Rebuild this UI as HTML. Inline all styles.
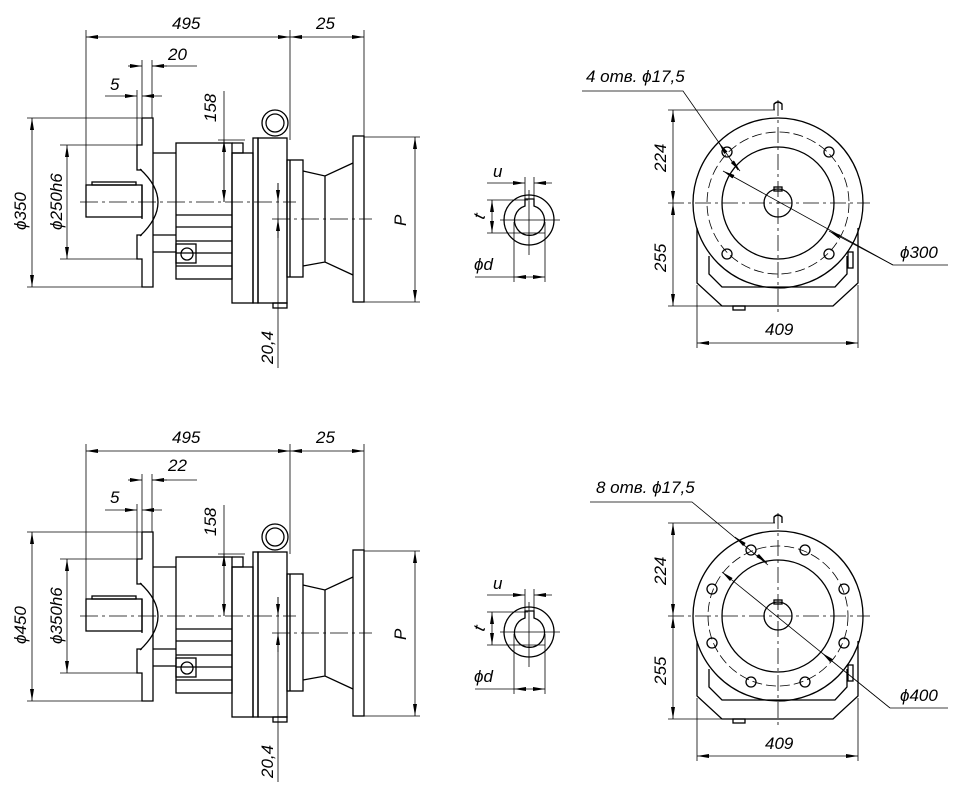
<!DOCTYPE html>
<html><head><meta charset="utf-8"><style>
html,body{margin:0;padding:0;background:#fff;}
svg{display:block;}
text{font-family:"Liberation Sans",sans-serif;font-style:italic;font-size:17px;fill:#000;}
</style></head><body>
<svg width="980" height="809" viewBox="0 0 980 809" xmlns="http://www.w3.org/2000/svg">
<defs>
<marker id="a" viewBox="0 0 12 4" refX="12" refY="2" markerWidth="12" markerHeight="4" markerUnits="userSpaceOnUse" orient="auto-start-reverse"><path d="M0,0 L12,2 L0,4z" fill="#000"/></marker>
<g id="side" fill="none" stroke="#000" stroke-width="1.3">
 <!-- extension lines -->
 <g stroke-width="0.8">
  <line x1="86" y1="30" x2="86" y2="217"/>
  <line x1="290" y1="30" x2="290" y2="140"/>
  <line x1="364" y1="30" x2="364" y2="137"/>
  <line x1="142" y1="60" x2="142" y2="118"/>
  <line x1="152" y1="60" x2="152" y2="118"/>
  <line x1="137" y1="90" x2="137" y2="145"/>
  <line x1="27" y1="118" x2="142" y2="118"/>
  <line x1="27" y1="287" x2="142" y2="287"/>
  <line x1="60" y1="145" x2="137" y2="145"/>
  <line x1="60" y1="259" x2="137" y2="259"/>
  <line x1="224" y1="91" x2="224" y2="202"/>
  <line x1="218" y1="140" x2="245" y2="140"/>
  <line x1="278" y1="183" x2="278" y2="368"/>
  <line x1="364" y1="137" x2="420" y2="137"/>
  <line x1="364" y1="302" x2="420" y2="302"/>
  <line x1="80" y1="202" x2="296" y2="202" stroke-dasharray="18,4,3,4"/>
  <line x1="272" y1="219" x2="372" y2="219" stroke-dasharray="18,4,3,4"/>
 </g>
 <!-- dimension lines -->
 <g stroke-width="0.8">
  <line x1="86" y1="37" x2="290" y2="37" marker-start="url(#a)" marker-end="url(#a)"/>
  <line x1="290" y1="37" x2="364" y2="37" marker-start="url(#a)" marker-end="url(#a)"/>
  <line x1="128" y1="66" x2="142" y2="66" marker-end="url(#a)"/>
  <line x1="152" y1="66" x2="197" y2="66"/>
  <line x1="167" y1="66" x2="152" y2="66" marker-end="url(#a)"/>
  <line x1="105" y1="96" x2="137" y2="96" marker-end="url(#a)"/>
  <line x1="162" y1="96" x2="142" y2="96" marker-end="url(#a)"/>
  <line x1="32" y1="118" x2="32" y2="287" marker-start="url(#a)" marker-end="url(#a)"/>
  <line x1="67" y1="145" x2="67" y2="259" marker-start="url(#a)" marker-end="url(#a)"/>
  <line x1="224" y1="140" x2="224" y2="202" marker-start="url(#a)" marker-end="url(#a)"/>
  <line x1="278" y1="183" x2="278" y2="202" marker-end="url(#a)"/>
  <line x1="278" y1="238" x2="278" y2="219" marker-end="url(#a)"/>
  <line x1="415" y1="137" x2="415" y2="302" marker-start="url(#a)" marker-end="url(#a)"/>
 </g>
 <!-- flange -->
 <path d="M142,118 H153 V287 H142 V259 H137 V235 H142 M142,170 H137 V145 H142 V118"/>
 <path d="M140,169 Q176,202 140,236"/>
 <!-- shaft -->
 <rect x="86" y="185" width="56" height="32"/>
 <rect x="92" y="182" width="44" height="3"/>
 <line x1="142" y1="185" x2="142" y2="219"/>
 <!-- neck -->
 <line x1="153" y1="153" x2="176" y2="153"/>
 <line x1="153" y1="235" x2="176" y2="235"/>
 <line x1="153" y1="252" x2="176" y2="252"/>
 <!-- housing -->
 <rect x="176" y="143" width="56" height="136"/>
 <path d="M232,143 H243 V153 H232"/>
 <line x1="176" y1="215" x2="232" y2="215"/>
 <line x1="176" y1="227" x2="232" y2="227"/>
 <line x1="176" y1="241" x2="232" y2="241"/>
 <line x1="176" y1="253" x2="232" y2="253"/>
 <line x1="176" y1="266" x2="232" y2="266"/>
 <rect x="176" y="244" width="20" height="19"/>
 <circle cx="187" cy="254" r="6"/>
 <rect x="232" y="153" width="21" height="150"/>
 <rect x="253" y="138" width="5" height="165"/>
 <rect x="258" y="138" width="29" height="165"/>
 <rect x="273" y="303" width="14" height="5"/>
 <circle cx="275" cy="123" r="13"/>
 <circle cx="275" cy="123" r="9"/>
 <!-- right -->
 <rect x="287" y="160" width="16" height="117"/>
 <line x1="290" y1="160" x2="290" y2="277"/>
 <path d="M303,171 L325,176 L353,163 M303,266 L325,262 L353,275 M325,176 V262"/>
 <rect x="353" y="136" width="11" height="166"/>
</g>
<g id="key" fill="none" stroke="#000" stroke-width="1.3">
 <circle cx="529" cy="220" r="25"/>
 <path d="M525,206 A15,15 0 1 0 534,206 V199 H525 Z"/>
 <g stroke-width="0.8">
  <line x1="529" y1="190" x2="529" y2="255"/>
  <line x1="500" y1="220" x2="560" y2="220"/>
  <line x1="525" y1="177" x2="525" y2="199"/>
  <line x1="534" y1="177" x2="534" y2="199"/>
  <line x1="487" y1="183" x2="525" y2="183" marker-end="url(#a)"/>
  <line x1="552" y1="183" x2="534" y2="183" marker-end="url(#a)"/>
  <line x1="487" y1="200" x2="528" y2="200"/>
  <line x1="487" y1="233" x2="545" y2="233"/>
  <line x1="492" y1="200" x2="492" y2="233" marker-start="url(#a)" marker-end="url(#a)"/>
  <line x1="514" y1="222" x2="514" y2="282"/>
  <line x1="545" y1="222" x2="545" y2="282"/>
  <line x1="475" y1="277" x2="514" y2="277"/>
  <line x1="514" y1="277" x2="545" y2="277" marker-start="url(#a)" marker-end="url(#a)"/>
 </g>
</g>
</defs>

<use href="#side"/>
<use href="#side" transform="translate(0,414)"/>
<use href="#key"/>
<use href="#key" transform="translate(0,412)"/>

<!-- left labels top -->
<text x="172" y="29">495</text>
<text x="316" y="29">25</text>
<text x="168" y="60">20</text>
<text x="110" y="90">5</text>
<text transform="translate(216,122) rotate(-90)">158</text>
<text transform="translate(26,230) rotate(-90)">ϕ350</text>
<text transform="translate(62,230) rotate(-90)">ϕ250h6</text>
<text transform="translate(273,364) rotate(-90)">20,4</text>
<text transform="translate(406,226) rotate(-90)">P</text>
<!-- left labels bottom -->
<text x="172" y="443">495</text>
<text x="316" y="443">25</text>
<text x="168" y="471">22</text>
<text x="110" y="503">5</text>
<text transform="translate(216,536) rotate(-90)">158</text>
<text transform="translate(26,644) rotate(-90)">ϕ450</text>
<text transform="translate(62,644) rotate(-90)">ϕ350h6</text>
<text transform="translate(273,778) rotate(-90)">20,4</text>
<text transform="translate(406,640) rotate(-90)">P</text>
<!-- key labels -->
<text x="493" y="177">u</text>
<text transform="translate(484,220) rotate(-75)" font-size="14">t</text>
<text x="474" y="270">ϕd</text>
<text x="493" y="589">u</text>
<text transform="translate(484,632) rotate(-75)" font-size="14">t</text>
<text x="474" y="682">ϕd</text>

<!-- front view top -->
<g fill="none" stroke="#000" stroke-width="1.3">
 <circle cx="778" cy="203" r="85"/>
 <circle cx="778" cy="203" r="71" stroke-width="0.8" stroke-dasharray="10,4"/>
 <circle cx="778" cy="203" r="56"/>
 <circle cx="778" cy="203" r="14"/>
 <rect x="774" y="187" width="8" height="4"/>
 <circle cx="727" cy="152" r="5"/><circle cx="829" cy="152" r="5"/>
 <circle cx="727" cy="254" r="5"/><circle cx="829" cy="254" r="5"/>
 <path d="M697,228 V283 L722,306 H833 L858,283 V228"/>
 <path d="M709,256 V274 L722,287 H835 L847,274 V256"/>
 <path d="M774,110 V104 Q778,100 782,104 V110"/>
 <rect x="733" y="306" width="12" height="4"/>
 <rect x="848" y="252" width="5" height="16"/>
 <g stroke-width="0.8">
  <line x1="778" y1="100" x2="778" y2="312" stroke-dasharray="16,4,3,4"/>
  <line x1="668" y1="203" x2="870" y2="203" stroke-dasharray="16,4,3,4"/>
  <line x1="668" y1="110" x2="775" y2="110"/>
  <line x1="668" y1="306" x2="740" y2="306"/>
  <line x1="673" y1="110" x2="673" y2="203" marker-start="url(#a)" marker-end="url(#a)"/>
  <line x1="673" y1="203" x2="673" y2="306" marker-start="url(#a)" marker-end="url(#a)"/>
  <line x1="697" y1="285" x2="697" y2="348"/>
  <line x1="858" y1="285" x2="858" y2="348"/>
  <line x1="697" y1="343" x2="858" y2="343" marker-start="url(#a)" marker-end="url(#a)"/>
  <path d="M582,91 H683 L738,170"/>
  <line x1="726" y1="153" x2="719" y2="143" marker-end="url(#a)"/>
  <line x1="731" y1="160" x2="740" y2="171" marker-end="url(#a)"/>
  <path d="M893,265 H948"/>
  <line x1="893" y1="265" x2="723" y2="171" marker-end="url(#a)"/>
  <line x1="893" y1="265" x2="829" y2="231" marker-end="url(#a)"/>
 </g>
</g>
<text x="586" y="82">4 отв. ϕ17,5</text>
<text x="900" y="258">ϕ300</text>
<text transform="translate(666,172) rotate(-90)">224</text>
<text transform="translate(666,272) rotate(-90)">255</text>
<text x="765" y="335">409</text>

<!-- front view bottom -->
<g fill="none" stroke="#000" stroke-width="1.3">
 <circle cx="778" cy="616" r="85"/>
 <circle cx="778" cy="616" r="70" stroke-width="0.8" stroke-dasharray="10,4"/>
 <circle cx="778" cy="616" r="56"/>
 <circle cx="778" cy="616" r="14"/>
 <rect x="774" y="600" width="8" height="4"/>
 <circle cx="751" cy="550" r="5"/><circle cx="805" cy="550" r="5"/>
 <circle cx="712" cy="589" r="5"/><circle cx="844" cy="589" r="5"/>
 <circle cx="712" cy="643" r="5"/><circle cx="844" cy="643" r="5"/>
 <circle cx="751" cy="682" r="5"/><circle cx="805" cy="682" r="5"/>
 <path d="M697,641 V696 L722,719 H833 L858,696 V641"/>
 <path d="M709,669 V687 L722,700 H835 L847,687 V669"/>
 <path d="M774,523 V517 Q778,513 782,517 V523"/>
 <rect x="733" y="719" width="12" height="4"/>
 <rect x="848" y="665" width="5" height="16"/>
 <g stroke-width="0.8">
  <line x1="778" y1="513" x2="778" y2="725" stroke-dasharray="16,4,3,4"/>
  <line x1="668" y1="616" x2="870" y2="616" stroke-dasharray="16,4,3,4"/>
  <line x1="668" y1="523" x2="775" y2="523"/>
  <line x1="668" y1="719" x2="740" y2="719"/>
  <line x1="673" y1="523" x2="673" y2="616" marker-start="url(#a)" marker-end="url(#a)"/>
  <line x1="673" y1="616" x2="673" y2="719" marker-start="url(#a)" marker-end="url(#a)"/>
  <line x1="697" y1="698" x2="697" y2="761"/>
  <line x1="858" y1="698" x2="858" y2="761"/>
  <line x1="697" y1="756" x2="858" y2="756" marker-start="url(#a)" marker-end="url(#a)"/>
  <path d="M590,502 H692 L768,565"/>
  <line x1="745" y1="545" x2="735" y2="537" marker-end="url(#a)"/>
  <line x1="757" y1="555" x2="767" y2="563" marker-end="url(#a)"/>
  <path d="M890,708 H948"/>
  <line x1="890" y1="708" x2="722" y2="572" marker-end="url(#a)"/>
  <line x1="890" y1="708" x2="822" y2="653" marker-end="url(#a)"/>
 </g>
</g>
<text x="596" y="493">8 отв. ϕ17,5</text>
<text x="900" y="701">ϕ400</text>
<text transform="translate(666,585) rotate(-90)">224</text>
<text transform="translate(666,685) rotate(-90)">255</text>
<text x="765" y="749">409</text>
</svg>
</body></html>
